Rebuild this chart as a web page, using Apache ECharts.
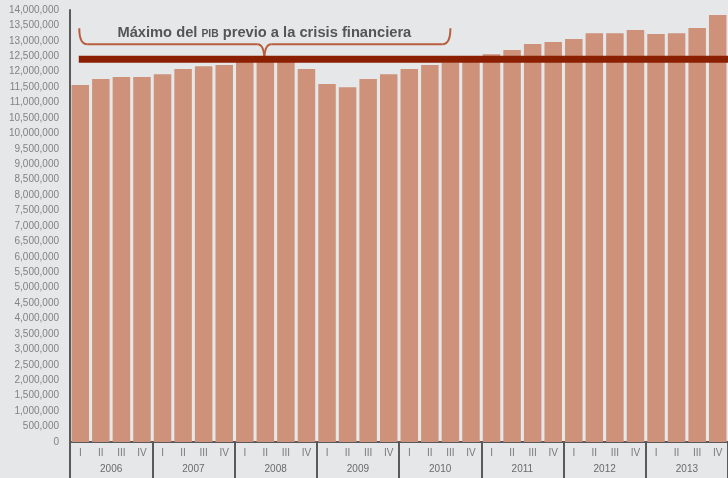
<!DOCTYPE html>
<html>
<head>
<meta charset="utf-8">
<script src="https://cdn.jsdelivr.net/npm/echarts@6/dist/echarts.min.js"></script>
<style>
html,body{margin:0;padding:0;background:#e6e7e9;}
#c{width:728px;height:478px;}
</style>
</head>
<body>
<div id="c"></div>
<script>
var years = ['2006','2007','2008','2009','2010','2011','2012','2013'];
var quarterNames = ['I','II','III','IV'];
var gdp = [
  11570000, 11760000, 11830000, 11830000,
  11920000, 12090000, 12180000, 12220000,
  12330000, 12400000, 12360000, 12090000,
  11600000, 11500000, 11760000, 11920000,
  12090000, 12220000, 12300000, 12360000,
  12570000, 12700000, 12900000, 12960000,
  13060000, 13250000, 13250000, 13350000,
  13220000, 13250000, 13420000, 13840000
];
var peakValue = 12400000;
var braceFromIndex = 0, bracePeakIndex = 9, braceToIndex = 18;
var titleMain1 = 'Máximo del ';
var titleSmall = 'PIB';
var titleMain2 = ' previo a la crisis financiera';

var categories = [];
years.forEach(function(y){ quarterNames.forEach(function(q){ categories.push(y + '-' + q); }); });

var chart = echarts.init(document.getElementById('c'), null, {renderer:'canvas'});
var font = 'Liberation Sans, Arial, Helvetica, sans-serif';
chart.setOption({
  backgroundColor: '#e6e7e9',
  animation: false,
  grid: {left: 70, right: -7, top: 10, bottom: 36, containLabel: false},
  xAxis: [{
    type: 'category',
    data: categories,
    position: 'bottom',
    axisLine: {show: false},
    axisTick: {show: false},
    axisLabel: {
      interval: 0, margin: 6, color: '#7a7a7a', fontSize: 10, fontFamily: font,
      formatter: function(v){ return v.split('-')[1]; }
    },
    splitLine: {show: false}
  }, {
    type: 'category',
    data: years,
    position: 'bottom',
    axisLine: {show: true, lineStyle: {color: '#5a5a5a', width: 2}},
    axisTick: {show: true, interval: 0, length: 36, alignWithLabel: false, lineStyle: {color: '#5a5a5a', width: 2}},
    axisLabel: {interval: 0, margin: 22, color: '#6a6a6a', fontSize: 10, fontFamily: font},
    splitLine: {show: false}
  }],
  yAxis: {
    type: 'value',
    min: 0, max: 14000000, interval: 500000,
    axisLine: {show: true, lineStyle: {color: '#5a5a5a', width: 2}},
    axisTick: {show: false},
    splitLine: {show: false},
    axisLabel: {
      margin: 11, color: '#828282', fontSize: 10, fontFamily: font,
      formatter: function(v){ return String(v).replace(/\B(?=(\d{3})+(?!\d))/g, ','); }
    }
  },
  series: [{
    type: 'bar',
    xAxisIndex: 0,
    data: gdp,
    barCategoryGap: '15%',
    itemStyle: {color: '#cd9279'},
    silent: true
  }]
});

var yPeak = chart.convertToPixel({yAxisIndex: 0}, peakValue);
var xFrom = chart.convertToPixel({xAxisIndex: 0}, categories[braceFromIndex]) - 1;
var xMid = chart.convertToPixel({xAxisIndex: 0}, categories[bracePeakIndex]) - 1;
var xTo = chart.convertToPixel({xAxisIndex: 0}, categories[braceToIndex]);
var W = chart.getWidth();
var yb = yPeak - 15, ye = yPeak - 31;
var braceStyle = {stroke: '#b75e3e', lineWidth: 2, fill: null};
function curve(x1, y1, cx, cy, x2, y2) {
  return {type: 'bezierCurve', shape: {x1: x1, y1: y1, cpx1: cx, cpy1: cy, x2: x2, y2: y2}, style: braceStyle, z: 99};
}
function seg(x1, y1, x2, y2) {
  return {type: 'line', shape: {x1: x1, y1: y1, x2: x2, y2: y2}, style: braceStyle, z: 99};
}

chart.setOption({
  graphic: [
    curve(xFrom, ye, xFrom, yb, xFrom + 8, yb),
    seg(xFrom + 8, yb, xMid - 7, yb),
    curve(xMid - 7, yb, xMid, yb, xMid, yPeak + 1),
    curve(xMid + 7, yb, xMid, yb, xMid, yPeak + 1),
    seg(xMid + 7, yb, xTo - 8, yb),
    curve(xTo - 8, yb, xTo, yb, xTo, ye),
    {
      type: 'line',
      shape: {x1: xFrom - 0.5, y1: yPeak, x2: W, y2: yPeak},
      style: {stroke: '#8b1f02', lineWidth: 7},
      z: 100
    }, {
      type: 'text',
      x: xMid, y: yPeak - 28,
      style: {
        text: '{a|' + titleMain1 + '}{s|' + titleSmall + '}{a|' + titleMain2 + '}',
        align: 'center', verticalAlign: 'middle',
        rich: {
          a: {fontSize: 14.7, fontWeight: 'bold', fontFamily: font, fill: '#555555', lineHeight: 18, verticalAlign: 'bottom'},
          s: {fontSize: 10.3, fontWeight: 'bold', fontFamily: font, fill: '#555555', lineHeight: 18, verticalAlign: 'bottom', padding: [0,0,1,0]}
        }
      },
      z: 101
    }
  ]
});
</script>
</body>
</html>
